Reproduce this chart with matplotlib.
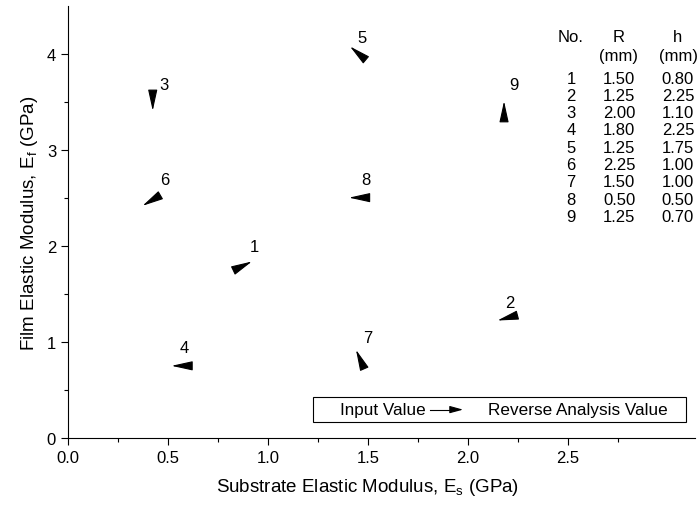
import matplotlib
matplotlib.use("Agg")
import matplotlib.pyplot as plt
from matplotlib.patches import Rectangle

plt.rcParams["font.family"] = ["Liberation Sans", "DejaVu Sans"]

# sample number, input (Es, Ef) and reverse-analysis (Es, Ef) in GPa
sample_no = [1, 2, 3, 4, 5, 6, 7, 8, 9]
es_input = [0.86, 2.21, 0.424, 0.585, 1.45, 0.43, 1.465, 1.475, 2.18]
ef_input = [1.78, 1.26, 3.54, 0.753, 4.01, 2.49, 0.80, 2.505, 3.39]
es_reverse = [0.92, 2.147, 0.424, 0.518, 1.41, 0.373, 1.44, 1.405, 2.18]
ef_reverse = [1.84, 1.225, 3.41, 0.753, 4.08, 2.42, 0.92, 2.505, 3.51]
label_x = [0.93, 2.21, 0.48, 0.583, 1.468, 0.483, 1.50, 1.49, 2.23]
label_y = [2.0, 1.41, 3.68, 0.94, 4.17, 2.69, 1.05, 2.69, 3.68]

# geometry table
table_r = ["1.50", "1.25", "2.00", "1.80", "1.25", "2.25", "1.50", "0.50", "1.25"]
table_h = ["0.80", "2.25", "1.10", "2.25", "1.75", "1.00", "1.00", "0.50", "0.70"]

HEAD = "-|>,head_length=1.0,head_width=0.22"

fig = plt.figure(figsize=(7.0, 5.1), dpi=100)
ax = fig.add_axes([0.097, 0.139, 0.896, 0.847])

for i in range(len(sample_no)):
    ax.annotate("", xy=(es_reverse[i], ef_reverse[i]),
                xytext=(es_input[i], ef_input[i]),
                arrowprops=dict(arrowstyle=HEAD, color="black", lw=0.8,
                                shrinkA=0, shrinkB=0, mutation_scale=13))
    ax.text(label_x[i], label_y[i], str(sample_no[i]), fontsize=12,
            ha="center", va="center")

ax.set_xlim(0, 3.135)
ax.set_ylim(0, 4.5)
ax.set_xticks([0.0, 0.5, 1.0, 1.5, 2.0, 2.5])
ax.set_xticks([0.25, 0.75, 1.25, 1.75, 2.25, 2.75], minor=True)
ax.set_yticks([0, 1, 2, 3, 4])
ax.set_yticks([0.5, 1.5, 2.5, 3.5], minor=True)
ax.set_xticklabels(["0.0", "0.5", "1.0", "1.5", "2.0", "2.5"])
ax.tick_params(which="major", direction="out", length=5, width=0.8, labelsize=12)
ax.tick_params(which="minor", direction="out", length=3, width=0.8)
for s in ("top", "right"):
    ax.spines[s].set_visible(False)

ax.set_xlabel(r"Substrate Elastic Modulus, E$_\mathregular{s}$ (GPa)", fontsize=13.5)
ax.set_ylabel(r"Film Elastic Modulus, E$_\mathregular{f}$ (GPa)", fontsize=13.5)
ax.xaxis.set_label_coords(0.478, -0.087)
ax.yaxis.set_label_coords(-0.045, 0.5)

# legend box
ax.add_patch(Rectangle((0.391, 0.037), 0.595, 0.058, transform=ax.transAxes,
                       fill=False, edgecolor="black", lw=0.8, clip_on=False))
ax.text(0.434, 0.066, "Input Value", transform=ax.transAxes, fontsize=12.3,
        ha="left", va="center")
ax.plot([0.577, 0.62], [0.066, 0.066], transform=ax.transAxes,
        color="black", lw=0.8)
ax.annotate("", xy=(0.630, 0.066), xytext=(0.615, 0.066),
            xycoords="axes fraction",
            arrowprops=dict(arrowstyle="-|>,head_length=0.8,head_width=0.22",
                            color="black", lw=0.8, shrinkA=0, shrinkB=0,
                            mutation_scale=10))
ax.text(0.67, 0.066, "Reverse Analysis Value", transform=ax.transAxes,
        fontsize=12.3, ha="left", va="center")

# parameter table
col_no, col_r, col_h = 571 / 700, 619 / 700, 678 / 700
fig.text(col_no, 1 - 38 / 510, "No.", fontsize=12, ha="center", va="center")
fig.text(col_r, 1 - 38 / 510, "R", fontsize=12, ha="center", va="center")
fig.text(col_h, 1 - 38 / 510, "h", fontsize=12, ha="center", va="center")
fig.text(col_r, 1 - 57 / 510, "(mm)", fontsize=12, ha="center", va="center")
fig.text(col_h, 1 - 57 / 510, "(mm)", fontsize=12, ha="center", va="center")
for i in range(len(sample_no)):
    y = 1 - (79 + 17.3 * i) / 510
    fig.text(col_no, y, str(sample_no[i]), fontsize=12, ha="center", va="center")
    fig.text(col_r, y, table_r[i], fontsize=12, ha="center", va="center")
    fig.text(col_h, y, table_h[i], fontsize=12, ha="center", va="center")

fig.savefig("out.png", dpi=100)
